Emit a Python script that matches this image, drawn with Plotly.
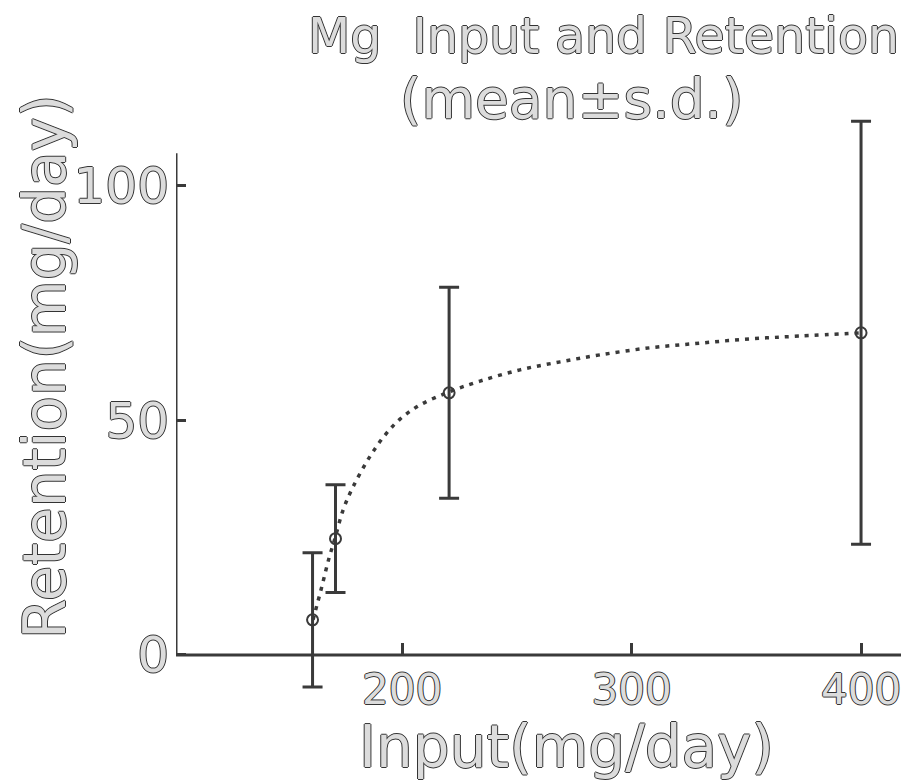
import plotly.graph_objects as go

# Data
input_mg = [161, 171, 220.5, 400]
retention_mean = [7.5, 24.8, 55.9, 68.7]
retention_sd = [14.3, 11.5, 22.5, 45.1]

# dotted fitted curve
curve_x = [161.2, 165.1, 168.2, 170.8, 174.3, 178.6, 186.1, 192.6, 199.1, 207.8,
           220.5, 234.0, 251.4, 268.9, 286.3, 308.1, 329.9, 351.6, 373.4, 400]
curve_y = [7.5, 14.7, 20.7, 24.9, 30.9, 35.8, 42.4, 46.9, 50.3, 53.3,
           56.1, 58.4, 60.8, 62.5, 64.0, 65.5, 66.5, 67.4, 68.0, 68.7]

x_ticks = [200, 300, 400]
y_ticks = [0, 50, 100]

INK = "#3a3a3a"
FILL = "#dcdcdc"
OUTLINE = "1px 0 #333, -1px 0 #333, 0 1px #333, 0 -1px #333"
FONT = "DejaVu Sans"

x_range = [101.5, 420.9]
y_range = [-13.86, 116.2]

OFF = 8  # page body margin
W, H = 909 - OFF, 783 - OFF
L, R, T, B = 176 - OFF, 0, 110 - OFF, 63
PW, PH = W - L - R, H - T - B

fig = go.Figure()

fig.add_trace(go.Scatter(
    x=curve_x, y=curve_y, mode="lines",
    line=dict(color=INK, width=3.5, dash="4px,6px", shape="spline", smoothing=1.0),
    hoverinfo="skip", showlegend=False))

fig.add_trace(go.Scatter(
    x=input_mg, y=retention_mean, mode="markers",
    marker=dict(symbol="circle-open", size=11, color=INK, line=dict(width=2, color=INK)),
    error_y=dict(type="data", array=retention_sd, visible=True,
                 color=INK, thickness=3, width=10),
    showlegend=False))

# axis lines
fig.add_shape(type="line", xref="x", yref="y", x0=x_range[0], x1=x_range[0], y0=0, y1=107,
              line=dict(color=INK, width=3))
fig.add_shape(type="line", xref="x", yref="y", x0=x_range[0], x1=419.2, y0=0, y1=0,
              line=dict(color=INK, width=3))

xpos = -y_range[0] / (y_range[1] - y_range[0])


def px_x(px):
    return (px - OFF - L) / PW


def px_y(py):
    return (H - B - (py - OFF)) / PH


fig.update_layout(
    width=W, height=H,
    margin=dict(l=L, r=R, t=T, b=B),
    paper_bgcolor="white", plot_bgcolor="white",
    xaxis=dict(range=x_range, showgrid=False, zeroline=False, showline=False,
               automargin=False,
               tickvals=x_ticks, ticktext=[str(v) for v in x_ticks],
               ticks="inside", ticklen=12, tickwidth=3, tickcolor=INK,
               anchor="free", position=xpos,
               tickfont=dict(family=FONT, size=42, color=FILL, shadow=OUTLINE),
               ticklabelstandoff=6),
    yaxis=dict(range=y_range, showgrid=False, zeroline=False, showline=False,
               automargin=False,
               tickvals=y_ticks, ticktext=[str(v) for v in y_ticks],
               ticks="inside", ticklen=10, tickwidth=3, tickcolor=INK,
               tickfont=dict(family=FONT, size=50, color=FILL, shadow=OUTLINE),
               ticklabelstandoff=6),
    annotations=[
        dict(text="Mg  Input and Retention", xref="paper", yref="paper",
             x=px_x(603), y=px_y(37), xanchor="center", yanchor="middle",
             showarrow=False, font=dict(family=FONT, size=49, color=FILL, shadow=OUTLINE)),
        dict(text="(mean±s.d.)", xref="paper", yref="paper",
             x=px_x(572), y=px_y(99), xanchor="center", yanchor="middle",
             showarrow=False, font=dict(family=FONT, size=55, color=FILL, shadow=OUTLINE)),
        dict(text="Retention(mg/day)", xref="paper", yref="paper", textangle=-90,
             x=px_x(45), y=px_y(367), xanchor="center", yanchor="middle",
             showarrow=False, font=dict(family=FONT, size=58, color=FILL, shadow=OUTLINE)),
        dict(text="Input(mg/day)", xref="paper", yref="paper",
             x=px_x(566), y=px_y(747), xanchor="center", yanchor="middle",
             showarrow=False, font=dict(family=FONT, size=58, color=FILL, shadow=OUTLINE)),
    ],
)

fig.write_html("out.html")
